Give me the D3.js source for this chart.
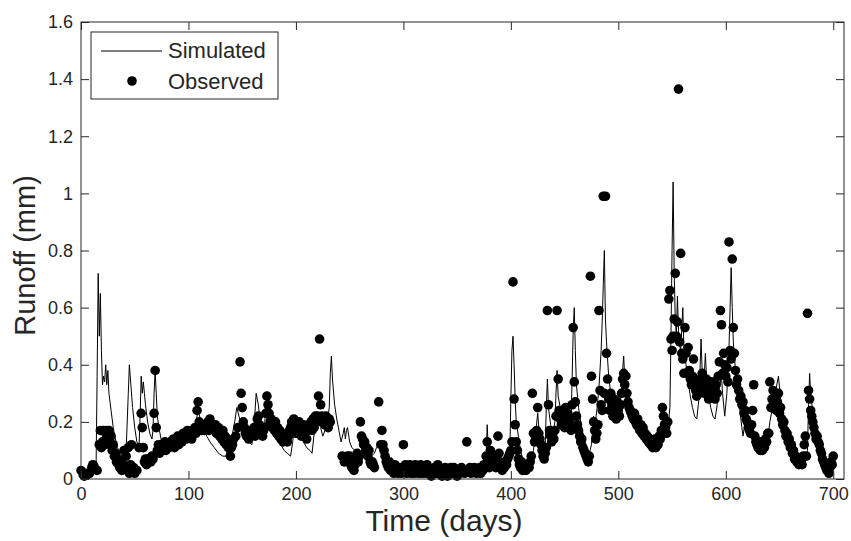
<!DOCTYPE html>
<html lang="en">
  <head>
    <meta charset="utf-8" />
    <title>Runoff</title>
    <script src="https://d3js.org/d3.v7.min.js"></script>
    <style type="text/css">
      body {
        margin: 0;
        background: #fff;
        font-family: "Liberation Sans", Arial, sans-serif;
      }
      svg text {
        fill: #262626;
      }
    </style>
  </head>
  <body>
    <svg id="chart" width="851" height="541"></svg>

    <script type="text/javascript">
      // tick labels
      const xTicks = [0, 100, 200, 300, 400, 500, 600, 700];
      const yTicks = [0, 0.2, 0.4, 0.6, 0.8, 1, 1.2, 1.4, 1.6];

      // simulated runoff (line), day / mm
      const simDays = [0,5,10,14,15,16,17,18,19,20,21,22,23,24,25,26,28,30,32,34,36,38,40,42,44,45,46,48,50,52,54,55,56,57,58,59,60,62,64,66,67,68,69,70,71,73,75,77,80,83,86,90,94,98,102,105,107,109,111,114,117,120,124,128,132,135,137,140,143,145,147,150,153,156,159,161,163,165,167,169,171,173,175,177,180,183,186,189,192,195,197,199,201,204,207,210,213,215,217,219,221,223,225,227,229,231,232,233,234,236,238,240,242,244,245,246,247,248,250,252,255,258,261,262,264,267,270,273,275,277,279,282,285,290,300,310,320,330,340,350,360,370,375,377,378,379,381,384,388,392,396,399,400,401,402,403,404,405,407,409,411,413,416,419,421,423,425,426,428,430,432,433,434,435,437,439,441,442,443,444,446,448,450,452,454,456,457,458,459,460,461,463,465,467,469,471,473,475,477,478,480,482,484,485,486,487,488,489,491,493,495,497,499,501,503,504,505,506,508,510,513,516,519,522,525,528,531,534,537,540,543,546,548,549,550,551,552,553,554,555,556,557,558,559,560,561,563,565,567,569,571,573,575,576,577,578,579,580,581,582,584,586,588,590,592,594,596,597,599,601,603,604,605,606,607,609,611,613,616,618,620,622,625,628,631,634,637,639,641,644,647,649,651,653,656,659,662,665,668,671,674,676,677,678,679,681,683,686,689,692,695,698,701];
      const simRunoff = [0.02,0.015,0.02,0.03,0.36,0.72,0.50,0.65,0.45,0.33,0.36,0.34,0.40,0.33,0.38,0.30,0.24,0.18,0.14,0.11,0.09,0.08,0.07,0.10,0.30,0.40,0.35,0.25,0.18,0.13,0.11,0.22,0.36,0.30,0.34,0.30,0.26,0.20,0.16,0.14,0.17,0.30,0.38,0.30,0.22,0.17,0.13,0.11,0.10,0.10,0.11,0.12,0.13,0.15,0.17,0.18,0.20,0.24,0.21,0.18,0.15,0.13,0.11,0.09,0.08,0.08,0.12,0.14,0.20,0.25,0.22,0.18,0.15,0.13,0.12,0.18,0.30,0.26,0.19,0.16,0.20,0.29,0.24,0.20,0.17,0.14,0.12,0.10,0.09,0.08,0.13,0.21,0.19,0.16,0.13,0.11,0.10,0.09,0.16,0.22,0.20,0.18,0.15,0.17,0.19,0.25,0.37,0.43,0.35,0.26,0.21,0.17,0.13,0.16,0.18,0.14,0.17,0.18,0.13,0.11,0.10,0.09,0.09,0.11,0.10,0.09,0.08,0.09,0.11,0.12,0.09,0.06,0.04,0.03,0.03,0.025,0.02,0.02,0.02,0.02,0.02,0.02,0.03,0.08,0.19,0.10,0.06,0.05,0.04,0.04,0.05,0.08,0.28,0.45,0.50,0.40,0.28,0.20,0.15,0.10,0.07,0.05,0.04,0.06,0.10,0.16,0.23,0.18,0.13,0.10,0.12,0.25,0.35,0.25,0.19,0.16,0.20,0.30,0.38,0.29,0.25,0.22,0.20,0.19,0.18,0.20,0.35,0.52,0.60,0.45,0.33,0.25,0.20,0.16,0.13,0.11,0.09,0.12,0.22,0.18,0.24,0.32,0.45,0.55,0.68,0.80,0.56,0.48,0.36,0.30,0.27,0.24,0.22,0.25,0.30,0.38,0.43,0.35,0.28,0.23,0.20,0.18,0.16,0.15,0.13,0.12,0.11,0.11,0.12,0.14,0.16,0.17,0.25,0.50,0.80,1.04,0.72,0.56,0.50,0.64,0.52,0.47,0.45,0.52,0.60,0.46,0.40,0.34,0.29,0.25,0.22,0.21,0.28,0.38,0.49,0.38,0.30,0.36,0.44,0.36,0.29,0.25,0.22,0.21,0.26,0.32,0.36,0.30,0.22,0.30,0.46,0.60,0.74,0.60,0.48,0.38,0.30,0.24,0.15,0.20,0.22,0.20,0.17,0.15,0.13,0.12,0.12,0.14,0.20,0.26,0.32,0.36,0.28,0.22,0.16,0.12,0.09,0.07,0.06,0.05,0.06,0.10,0.26,0.37,0.30,0.23,0.18,0.13,0.09,0.06,0.05,0.04,0.04];

      // observed runoff (dots), day / mm
      const obsDays = [0,2,3,5,6,8,10,11,12,13,15,17,18,19,20,21,22,23,24,25,26,27,28,29,30,31,32,33,34,35,36,37,38,39,40,41,42,43,44,45,46,47,48,49,50,52,54,56,57,58,59,60,61,62,63,64,65,66,67,68,69,70,71,72,73,74,75,76,77,78,79,80,82,83,84,86,87,88,90,91,92,94,95,96,98,99,100,102,103,104,106,107,108,109,110,111,112,114,115,116,118,119,120,121,122,124,125,126,128,129,130,131,132,133,134,135,136,137,138,139,140,141,142,144,146,148,149,150,151,152,153,154,155,156,157,158,159,160,161,162,164,165,166,167,168,169,170,171,172,173,174,175,176,177,178,179,180,181,182,183,184,185,186,187,188,190,191,192,193,194,195,196,197,198,199,200,201,202,203,204,205,206,207,208,209,210,211,212,213,214,215,216,217,218,219,220,221,222,223,224,225,226,227,228,229,230,231,232,243,245,248,249,250,251,252,253,254,255,256,257,258,259,260,261,262,263,264,265,266,267,268,269,270,271,272,273,277,279,280,281,282,283,284,285,286,287,288,289,290,291,292,293,294,295,296,297,298,299,300,301,302,303,304,305,306,307,308,309,310,311,312,313,314,315,316,317,318,319,320,321,322,323,324,325,326,327,328,329,330,331,332,333,334,335,336,337,338,339,340,341,342,343,344,345,346,347,348,349,350,351,352,354,355,357,359,360,362,363,365,366,368,369,371,372,374,375,377,378,379,380,381,382,383,384,385,386,387,388,389,390,391,392,393,394,395,396,397,398,399,400,401,402,403,404,405,406,407,408,409,410,411,412,413,414,415,416,417,418,419,420,421,422,423,424,425,426,427,428,429,430,431,432,433,434,435,436,437,438,439,440,441,442,443,444,445,446,447,448,449,450,451,452,453,454,455,456,457,458,459,460,461,462,463,464,465,466,467,468,469,470,471,472,473,474,475,476,477,478,479,480,481,482,483,484,485,486,487,488,489,490,491,492,493,494,495,496,497,498,499,500,501,502,503,504,505,506,507,508,509,510,511,512,513,514,515,516,517,518,519,520,521,522,523,524,525,526,527,528,529,530,531,532,533,534,535,536,537,538,539,540,541,542,543,544,545,546,547,548,549,550,551,552,553,554,555,556,557,558,559,560,561,562,563,564,565,566,567,568,569,570,571,572,573,574,575,576,577,578,579,580,581,582,583,584,585,586,587,588,589,590,591,592,593,594,595,596,597,598,599,600,601,602,603,604,605,606,607,608,609,610,611,612,613,614,615,616,617,618,619,620,621,622,623,624,625,626,627,628,629,630,631,632,633,634,635,636,637,638,639,640,641,642,643,644,645,646,647,648,649,650,651,652,653,654,655,656,657,658,659,660,661,662,663,664,665,666,667,668,669,670,671,672,673,674,675,676,677,678,679,680,681,682,683,684,685,686,687,688,689,690,691,692,693,694,695,696,697,698,699,700];
      const obsRunoff = [0.03,0.015,0.01,0.02,0.015,0.02,0.04,0.05,0.045,0.035,0.03,0.12,0.17,0.11,0.13,0.17,0.12,0.16,0.17,0.14,0.17,0.12,0.15,0.10,0.12,0.08,0.09,0.06,0.07,0.05,0.04,0.06,0.03,0.05,0.10,0.04,0.08,0.03,0.11,0.02,0.05,0.12,0.03,0.04,0.02,0.03,0.11,0.23,0.18,0.11,0.06,0.07,0.05,0.07,0.06,0.07,0.06,0.08,0.07,0.23,0.38,0.18,0.10,0.12,0.09,0.11,0.12,0.10,0.11,0.13,0.10,0.12,0.11,0.13,0.12,0.14,0.11,0.13,0.15,0.12,0.14,0.13,0.16,0.15,0.14,0.17,0.15,0.16,0.14,0.17,0.18,0.16,0.24,0.27,0.20,0.18,0.17,0.19,0.17,0.18,0.20,0.17,0.21,0.19,0.18,0.17,0.19,0.16,0.18,0.15,0.16,0.14,0.17,0.13,0.15,0.12,0.14,0.11,0.13,0.08,0.11,0.12,0.14,0.15,0.18,0.41,0.30,0.25,0.20,0.18,0.16,0.15,0.17,0.14,0.16,0.15,0.17,0.16,0.18,0.15,0.21,0.22,0.19,0.16,0.18,0.15,0.17,0.18,0.23,0.29,0.26,0.23,0.20,0.21,0.18,0.19,0.17,0.20,0.16,0.18,0.15,0.17,0.14,0.16,0.13,0.15,0.14,0.13,0.15,0.17,0.18,0.20,0.17,0.21,0.18,0.16,0.19,0.17,0.20,0.18,0.15,0.17,0.19,0.16,0.18,0.14,0.17,0.19,0.18,0.20,0.17,0.21,0.18,0.22,0.20,0.22,0.29,0.49,0.26,0.22,0.20,0.21,0.19,0.22,0.20,0.18,0.21,0.20,0.08,0.06,0.08,0.06,0.08,0.05,0.04,0.06,0.03,0.05,0.07,0.09,0.06,0.08,0.20,0.15,0.14,0.12,0.13,0.10,0.11,0.08,0.10,0.06,0.05,0.06,0.05,0.04,0.27,0.12,0.17,0.12,0.10,0.08,0.06,0.05,0.04,0.06,0.03,0.05,0.04,0.02,0.05,0.03,0.04,0.02,0.04,0.03,0.02,0.04,0.12,0.03,0.05,0.02,0.04,0.03,0.05,0.02,0.03,0.04,0.02,0.05,0.03,0.04,0.02,0.03,0.05,0.02,0.04,0.03,0.02,0.04,0.05,0.03,0.02,0.03,0.01,0.03,0.02,0.04,0.02,0.03,0.05,0.02,0.04,0.03,0.01,0.03,0.02,0.04,0.03,0.01,0.03,0.02,0.04,0.03,0.02,0.04,0.03,0.02,0.01,0.03,0.02,0.04,0.03,0.02,0.13,0.03,0.04,0.02,0.03,0.04,0.02,0.03,0.04,0.02,0.03,0.05,0.08,0.13,0.06,0.04,0.10,0.08,0.07,0.06,0.05,0.04,0.06,0.15,0.09,0.06,0.04,0.03,0.05,0.04,0.06,0.05,0.07,0.08,0.09,0.10,0.13,0.69,0.28,0.19,0.13,0.10,0.07,0.05,0.04,0.06,0.03,0.05,0.04,0.03,0.04,0.05,0.04,0.06,0.08,0.30,0.16,0.13,0.15,0.17,0.25,0.16,0.14,0.12,0.10,0.08,0.07,0.09,0.11,0.59,0.26,0.17,0.15,0.13,0.16,0.14,0.17,0.22,0.59,0.35,0.24,0.21,0.19,0.24,0.22,0.18,0.25,0.20,0.23,0.19,0.21,0.17,0.26,0.53,0.34,0.27,0.22,0.19,0.17,0.15,0.13,0.14,0.11,0.10,0.09,0.08,0.07,0.06,0.08,0.71,0.36,0.28,0.20,0.17,0.14,0.16,0.19,0.59,0.31,0.26,0.24,0.99,0.30,0.99,0.44,0.35,0.28,0.24,0.30,0.26,0.22,0.28,0.25,0.21,0.27,0.24,0.22,0.26,0.30,0.35,0.37,0.33,0.36,0.30,0.27,0.25,0.24,0.23,0.22,0.21,0.23,0.20,0.19,0.21,0.18,0.17,0.19,0.16,0.18,0.15,0.16,0.14,0.15,0.13,0.14,0.12,0.13,0.11,0.12,0.14,0.11,0.13,0.12,0.15,0.14,0.17,0.25,0.22,0.19,0.18,0.16,0.20,0.63,0.66,0.49,0.45,0.50,0.56,0.72,0.50,0.55,1.365,0.48,0.79,0.44,0.42,0.37,0.53,0.44,0.37,0.46,0.38,0.35,0.33,0.36,0.42,0.34,0.31,0.29,0.33,0.30,0.35,0.32,0.37,0.34,0.30,0.33,0.35,0.31,0.28,0.32,0.30,0.34,0.29,0.31,0.28,0.33,0.30,0.36,0.41,0.59,0.54,0.37,0.44,0.40,0.36,0.39,0.34,0.83,0.45,0.42,0.77,0.53,0.44,0.38,0.33,0.35,0.31,0.28,0.29,0.26,0.27,0.23,0.24,0.21,0.20,0.18,0.17,0.16,0.19,0.24,0.33,0.15,0.13,0.12,0.11,0.13,0.10,0.11,0.10,0.12,0.11,0.14,0.13,0.16,0.16,0.34,0.25,0.28,0.31,0.26,0.29,0.24,0.27,0.30,0.23,0.25,0.21,0.19,0.20,0.17,0.15,0.16,0.13,0.14,0.11,0.12,0.09,0.10,0.07,0.08,0.06,0.07,0.05,0.06,0.07,0.05,0.08,0.12,0.15,0.08,0.58,0.31,0.28,0.24,0.22,0.20,0.18,0.16,0.14,0.15,0.13,0.12,0.10,0.09,0.07,0.06,0.05,0.04,0.03,0.05,0.02,0.04,0.06,0.05,0.08];

      const sim = simDays.map((d, i) => ({ day: d, v: simRunoff[i] }));
      const obs = obsDays.map((d, i) => ({ day: d, v: obsRunoff[i] }));

      // plot box (matlab style axes)
      const padL = 81, padR = 844, padT = 22, padB = 479;
      const svg = d3.select("#chart");

      const x = d3.scaleLinear().domain([0, 710]).range([padL, padR]);
      const y = d3.scaleLinear().domain([0, 1.6]).range([padB, padT]);
      const fmt = d3.format("~g");

      // simulated line
      svg.append("path")
        .datum(sim)
        .attr("fill", "none")
        .attr("stroke", "#000")
        .attr("stroke-width", 1)
        .attr("d", d3.line().x(d => x(d.day)).y(d => y(d.v)));

      // observed dots
      svg.append("g")
        .selectAll("circle")
        .data(obs)
        .join("circle")
        .attr("cx", d => x(d.day))
        .attr("cy", d => y(d.v))
        .attr("r", 4.8)
        .attr("fill", "#000");

      // axes, ticks pointing inward
      const tick = 8;
      svg.append("g")
        .attr("transform", `translate(0,${padB})`)
        .call(d3.axisBottom(x).tickValues(xTicks).tickFormat(fmt).tickSizeInner(-tick).tickSizeOuter(0).tickPadding(8))
        .call(g => g.select(".domain").remove());
      svg.append("g")
        .attr("transform", `translate(0,${padT})`)
        .call(d3.axisTop(x).tickValues(xTicks).tickFormat("").tickSizeInner(-tick).tickSizeOuter(0))
        .call(g => g.select(".domain").remove());
      svg.append("g")
        .attr("transform", `translate(${padL},0)`)
        .call(d3.axisLeft(y).tickValues(yTicks).tickFormat(fmt).tickSizeInner(-tick).tickSizeOuter(0).tickPadding(8))
        .call(g => g.select(".domain").remove());
      svg.append("g")
        .attr("transform", `translate(${padR},0)`)
        .call(d3.axisRight(y).tickValues(yTicks).tickFormat("").tickSizeInner(-tick).tickSizeOuter(0))
        .call(g => g.select(".domain").remove());

      svg.selectAll(".tick line").attr("stroke", "#262626");
      svg.selectAll(".tick text")
        .attr("font-family", "'Liberation Sans', Arial, sans-serif")
        .attr("font-size", "18px")
        .attr("fill", "#333");

      svg.append("rect")
        .attr("x", padL).attr("y", padT)
        .attr("width", padR - padL).attr("height", padB - padT)
        .attr("fill", "none")
        .attr("stroke", "#262626")
        .attr("stroke-width", 1);

      // axis titles
      svg.append("text")
        .attr("x", 444)
        .attr("y", 531)
        .attr("text-anchor", "middle")
        .attr("font-size", "30px")
        .text("Time (days)");
      svg.append("text")
        .attr("transform", `translate(35,${(padT + padB) / 2 + 5}) rotate(-90)`)
        .attr("text-anchor", "middle")
        .attr("font-size", "29px")
        .text("Runoff (mm)");

      // legend
      const lg = svg.append("g");
      lg.append("rect")
        .attr("x", 91).attr("y", 32)
        .attr("width", 187).attr("height", 67)
        .attr("fill", "#fff")
        .attr("stroke", "#262626");
      lg.append("line")
        .attr("x1", 101).attr("x2", 162)
        .attr("y1", 51).attr("y2", 51)
        .attr("stroke", "#000");
      lg.append("circle")
        .attr("cx", 132).attr("cy", 81)
        .attr("r", 4.8)
        .attr("fill", "#000");
      lg.append("text")
        .attr("x", 168).attr("y", 58)
        .attr("font-size", "22px")
        .text("Simulated");
      lg.append("text")
        .attr("x", 168).attr("y", 89)
        .attr("font-size", "22px")
        .text("Observed");
    </script>
  </body>
</html>
